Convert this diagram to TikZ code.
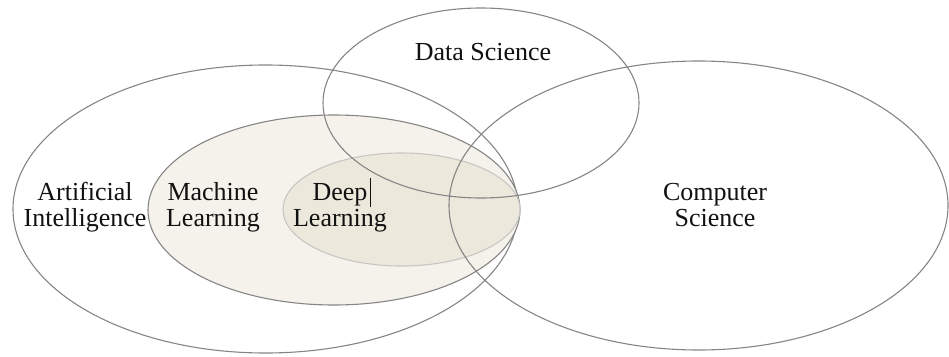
\documentclass[tikz,border=0pt]{standalone}
\usepackage{fontspec}
\setmainfont{Liberation Serif}
\usetikzlibrary{shapes.geometric}
\definecolor{rim}{HTML}{858585}
\definecolor{rimlight}{HTML}{C6C6C4}
\definecolor{mlfill}{HTML}{F4F2EA}
\definecolor{dlfill}{HTML}{ECE9DC}
\definecolor{ink}{HTML}{111111}
\tikzset{
  setbox/.style={ellipse, draw=rim, line width=1.1pt, inner sep=0pt, outer sep=0pt},
  lbl/.style={anchor=base, inner sep=0pt, text=ink, font=\fontsize{26}{26}\selectfont}
}
\begin{document}
\begin{tikzpicture}[x=1pt, y=-1pt]
\useasboundingbox (0,0) rectangle (949,356);
% Artificial Intelligence
\node[setbox, minimum width=505pt, minimum height=288pt] (ai) at (265.5,209) {};
% Machine Learning
\node[setbox, fill=mlfill, minimum width=372pt, minimum height=190pt] (ml) at (334,210) {};
% Deep Learning
\node[setbox, draw=rimlight, fill=dlfill, minimum width=237pt, minimum height=113pt] (dl) at (401.5,209.5) {};
% Data Science
\node[setbox, minimum width=316pt, minimum height=190pt] (ds) at (481,103) {};
% Computer Science
\node[setbox, minimum width=499pt, minimum height=289pt] (cs) at (698.5,205.5) {};
% labels
\node[lbl] (dsl) at (483,60) {Data Science};
\node[lbl] (ai1) at (85,200) {Artificial};
\node[lbl] (ai2) at (85,226) {Intelligence};
\node[lbl] (ml1) at (213,200) {Machine};
\node[lbl] (ml2) at (213,226) {Learning};
\node[lbl] (dl1) at (340,200) {Deep};
\node[lbl] (dl2) at (340,226) {Learning};
\node[lbl] (cs1) at (715,200) {Computer};
\node[lbl] (cs2) at (715,226) {Science};
% text cursor
\coordinate (c1) at (370,178);
\coordinate (c2) at (370,207);
\draw[ink, line width=0.8pt] (c1) -- (c2);
\end{tikzpicture}
\end{document}
